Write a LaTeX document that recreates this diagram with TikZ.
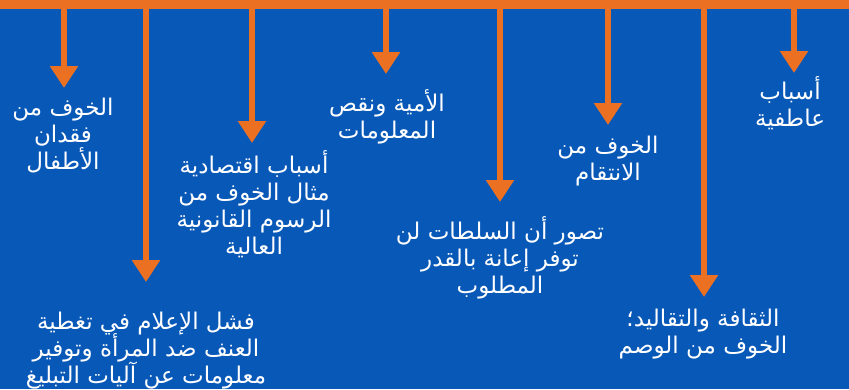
\documentclass[tikz,border=0pt]{standalone}
\usepackage{fontspec}
\usepackage{xcolor}
\usetikzlibrary{arrows.meta}
\TeXXeTstate=1
\setlength{\lineskiplimit}{-20pt}
\newfontfamily\arabicfont[Script=Arabic]{DejaVu Sans}
\newcommand{\artext}[1]{\beginR #1\endR}
\definecolor{bgblue}{RGB}{8,88,184}
\definecolor{barorange}{RGB}{236,112,33}

\begin{document}
\begin{tikzpicture}[x=1pt,y=-1pt,
  cause/.style={anchor=north, align=center, text=white, inner sep=0pt,
    font=\arabicfont\fontsize{23}{27}\selectfont},
  drop/.style={barorange, line width=6pt, -{Triangle[width=27pt,length=22pt]}}]

% Background and top bar
\useasboundingbox (0,0) rectangle (849,389);
\fill[bgblue] (0,0) rectangle (849,389);
\fill[barorange] (0,0) rectangle (849,9);

% Points on the bar
\coordinate (t1) at (64,5);
\coordinate (t2) at (146,5);
\coordinate (t3) at (252,5);
\coordinate (t4) at (386,5);
\coordinate (t5) at (500,5);
\coordinate (t6) at (608,5);
\coordinate (t7) at (704,5);
\coordinate (t8) at (794,5);

% Causes
\node[cause] (c1) at (63,98) {\artext{الخوف من}\\ \artext{فقدان}\\ \artext{الأطفال}};
\node[cause] (c2) at (146,312) {\artext{فشل الإعلام في تغطية}\\ \artext{العنف ضد المرأة وتوفير}\\ \artext{معلومات عن آليات التبليغ}};
\node[cause] (c3) at (254,150) {\artext{أسباب اقتصادية}\\ \artext{مثال الخوف من}\\ \artext{الرسوم القانونية}\\ \artext{العالية}};
\node[cause] (c4) at (387,89) {\artext{الأمية ونقص}\\ \artext{المعلومات}};
\node[cause] (c5) at (500,216) {\artext{تصور أن السلطات لن}\\ \artext{توفر إعانة بالقدر}\\ \artext{المطلوب}};
\node[cause] (c6) at (608,136) {\artext{الخوف من}\\ \artext{الانتقام}};
\node[cause] (c7) at (703,309) {\artext{الثقافة والتقاليد؛}\\ \artext{الخوف من الوصم}};
\node[cause] (c8) at (790,76) {\artext{أسباب}\\ \artext{عاطفية}};

% Arrows
\draw[drop, shorten >=10pt] (t1) -- (t1 |- c1.north);
\draw[drop, shorten >=30pt] (t2) -- (t2 |- c2.north);
\draw[drop, shorten >=7pt] (t3) -- (t3 |- c3.north);
\draw[drop, shorten >=15pt] (t4) -- (t4 |- c4.north);
\draw[drop, shorten >=14pt] (t5) -- (t5 |- c5.north);
\draw[drop, shorten >=11pt] (t6) -- (t6 |- c6.north);
\draw[drop, shorten >=12pt] (t7) -- (t7 |- c7.north);
\draw[drop, shorten >=3pt] (t8) -- (t8 |- c8.north);

\end{tikzpicture}
\end{document}
